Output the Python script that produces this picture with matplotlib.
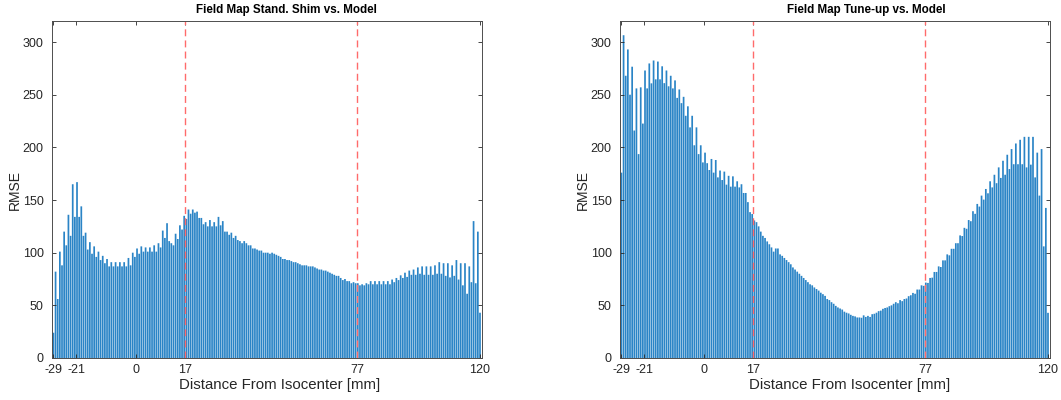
import numpy as np
import matplotlib
matplotlib.use("Agg")
import matplotlib.pyplot as plt

# RMSE per slice position, standard shim field map vs. model
rmse_shim = [
    24, 82, 56, 101, 88, 120, 107, 136, 116, 165,
    134, 167, 134, 144, 116, 119, 103, 110, 99, 106,
    96, 101, 93, 97, 90, 94, 87, 91, 87, 91,
    87, 91, 87, 91, 87, 95, 88, 100, 96, 104,
    99, 106, 101, 105, 101, 105, 101, 107, 101, 109,
    105, 121, 114, 128, 111, 109, 107, 118, 113, 126,
    122, 135, 132, 141,
    137, 141, 138, 139, 133, 133, 127, 129, 125, 131,
    125, 129, 125, 134, 126, 130, 120, 120, 117, 119,
    114, 116, 112, 111, 109, 111, 109, 107, 107, 104,
    104, 103, 102, 102, 100, 100, 100, 99, 100, 99,
    98, 97, 96, 94, 94, 93, 93, 92, 91, 91,
    90, 89, 88, 88, 88, 87, 87, 87, 86, 85,
    84, 84, 83, 83, 82, 81, 80, 79, 78, 78,
    76, 74, 75, 73, 73, 71, 72, 71, 71, 69,
    70, 69, 71, 70, 73, 70, 73, 70, 73, 70,
    73, 70, 73, 70, 74.5, 72, 76, 74, 78.5, 76,
    81, 77, 83, 79, 84, 79, 86, 80, 87, 79,
    87, 79, 87, 79, 88, 80, 91, 80, 90, 78,
    90, 76.5, 88, 78, 93, 74.5, 90, 69, 90, 61,
    87, 72, 130, 71, 120, 43,
]

# RMSE per slice position, tune-up field map vs. model
rmse_tuneup = [
    176, 306.5, 268, 293, 250, 276.6, 216, 256, 193.6, 257,
    222.6, 273, 256, 279.7, 260.8, 282.5, 264.6, 281.5, 264.6, 277,
    261, 273, 258, 268, 256, 263.6, 247, 255, 242, 248,
    230, 239, 219, 230, 202, 219, 193.6, 202, 185.7, 195,
    185, 178.5, 189, 176, 188, 171.5, 178, 169, 177, 164.6,
    173, 162.7, 172.5, 162.7, 167.8, 162, 165, 156.7, 156.7, 148,
    138.5, 136.7, 130.6, 129, 125, 120,
    116, 114, 110.7, 108, 105, 101, 104, 104, 98.4, 97,
    95, 93, 91, 89, 86, 84, 82, 80, 78, 76,
    74, 72, 70, 69, 67, 65.5, 64, 62, 60.6, 59,
    56, 55, 53, 51.5, 49.5, 48, 47, 46, 44, 43,
    42.3, 41, 40, 39.5, 38.5, 38.5, 38.2, 40.5, 39, 40,
    39, 41.6, 42, 43, 44.5, 45, 46.7, 47.5, 48, 49.2,
    50, 51.5, 53, 52, 55, 54, 56,
    56.5, 58.7, 59.6, 61.8, 61, 65, 65, 69, 68.5, 71.6,
    71.3, 76, 76.3, 81.7, 81.7, 87, 86.4, 92.7, 92.7, 98.4,
    97.5, 103.7, 103.7, 109, 109, 116.4, 115.8, 123.6, 122.7, 131,
    129.9, 139.4, 136.9, 146.3, 143.8, 154.2, 150.4, 160.5, 156.4, 167.8,
    162, 174, 166, 181, 171, 187.3, 174, 193, 179.4, 198.4,
    184, 203.7, 184, 207.2, 184, 210, 181, 210, 183.6, 210,
    171.5, 195, 154.2, 198.4, 106, 142.5, 42.9,
]

x_start, x_end = -29, 120
tick_positions = [-29, -21, 0, 17, 77, 120]
roi_bounds = [17, 77]
titles = ["Field Map Stand. Shim vs. Model", "Field Map Tune-up vs. Model"]
xlabel_text = "Distance From Isocenter [mm]"

plt.rcParams["font.family"] = ["Liberation Sans", "DejaVu Sans"]
plt.rcParams["axes.unicode_minus"] = False

W, H = 1061, 400
fig = plt.figure(figsize=(W / 100, H / 100), dpi=100)

# panel layout in pixels: (left, right), plus title / x-label centres
panels = [
    dict(span=(52, 482), title_x=286, xlabel_x=280),
    dict(span=(620, 1050), title_x=866, xlabel_x=850),
]
top_px, bottom_px = 21, 358

for panel, values, title in zip(panels, [rmse_shim, rmse_tuneup], titles):
    l, r = panel["span"]
    ax = fig.add_axes([l / W, 1 - bottom_px / H, (r - l) / W,
                       (bottom_px - top_px) / H])
    xs = np.linspace(x_start, x_end, len(values))
    step = xs[1] - xs[0]
    bars = ax.bar(xs, values, width=0.8 * step, color="#2a84c6",
                  edgecolor="none", linewidth=0)
    for p in bars.patches:
        p.set_snap(False)
    for b in roi_bounds:
        ax.axvline(b, color="#ff6b6b", linestyle=(0, (5, 3)), linewidth=1.0)
    ax.set_xlim(-29.5, 120.7)
    ax.set_ylim(0, 320)
    ax.set_xticks(tick_positions)
    ax.set_yticks(np.arange(0, 301, 50))
    ax.tick_params(direction="in", length=3, width=0.6, colors="#262626",
                   labelsize=9, top=True, right=True)
    ax.tick_params(axis="y", pad=6)
    ax.tick_params(axis="x", pad=4)
    for s in ax.spines.values():
        s.set_color("#4d4d4d")
        s.set_linewidth(0.7)
    ax.set_ylabel("RMSE", fontsize=10, color="#262626")
    ax.yaxis.set_label_coords(-0.070, 0.5)
    fig.text(panel["title_x"] / W, 1 - 10 / H, title, fontsize=8.4,
             fontweight="bold", ha="center", va="center", color="black")
    fig.text(panel["xlabel_x"] / W, 1 - 385 / H, xlabel_text, fontsize=10.8,
             ha="center", va="center", color="#262626")

fig.savefig("out.png", dpi=100, facecolor="white")
